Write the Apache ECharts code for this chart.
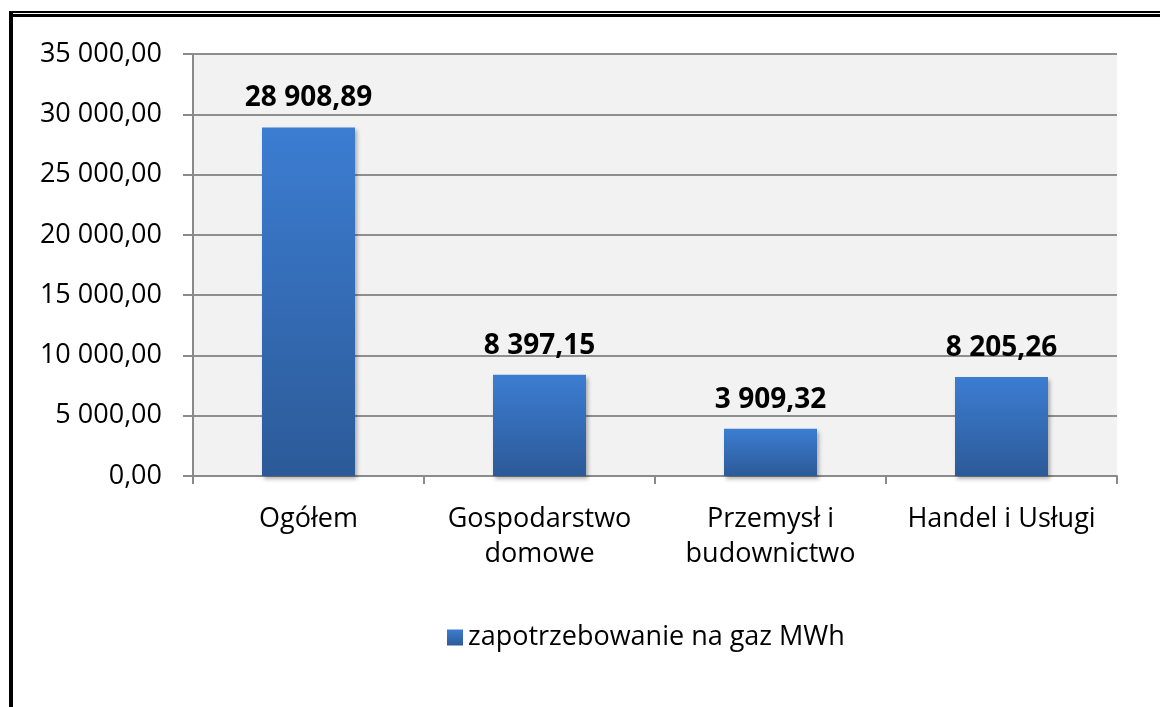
<!DOCTYPE html>
<html>
<head>
<meta charset="utf-8">
<script src="https://cdn.jsdelivr.net/npm/echarts@6/dist/echarts.min.js"></script>
<style>
  html, body { margin: 0; padding: 0; background: #fff; overflow: hidden; }
  #wrap { position: relative; width: 1160px; height: 707px; }
  #chart { width: 1160px; height: 707px; }
  /* frame of the original picture: double line on top, thick line on the left */
  .frame-top1 { position: absolute; left: 9px; top: 11px; width: 1151px; height: 2px; background: #000; }
  .frame-top2 { position: absolute; left: 9px; top: 14px; width: 1151px; height: 3px; background: #000; }
  .frame-left { position: absolute; left: 9px; top: 11px; width: 4px; height: 696px; background: #000; }
</style>
</head>
<body>
<div id="wrap">
  <div id="chart"></div>
  <div class="frame-top1"></div>
  <div class="frame-top2"></div>
  <div class="frame-left"></div>
</div>
<script>
var categories = ['Ogółem', 'Gospodarstwo\ndomowe', 'Przemysł i\nbudownictwo', 'Handel i Usługi'];
var gasDemand = [28908.89, 8397.15, 3909.32, 8205.26];
var seriesName = 'zapotrzebowanie na gaz MWh';
var yMin = 0;
var yMax = 35000;
var yStep = 5000;

// 28908.89 -> "28 908,89"
function fmtPl(v) {
    var parts = Number(v).toFixed(2).split('.');
    var intPart = parts[0].replace(/\B(?=(\d{3})+(?!\d))/g, ' ');
    return intPart + ',' + parts[1];
}

var FONT = '"Open Sans", sans-serif';

var echart = echarts.init(document.getElementById('chart'));
var option = {
    animation: false,
    textStyle: { fontFamily: FONT },
    grid: {
        left: 193,
        right: 43,
        top: 54,
        bottom: 231,
        show: true,
        backgroundColor: '#f2f2f2',
        borderWidth: 0
    },
    legend: {
        data: [seriesName],
        left: 442,
        top: 619,
        itemWidth: 16,
        itemHeight: 16,
        icon: 'rect',
        textStyle: { fontFamily: FONT, fontSize: 27, color: '#000' }
    },
    xAxis: {
        type: 'category',
        data: categories,
        axisLine: { lineStyle: { color: '#8a8a8a', width: 2 } },
        axisTick: { show: true, length: 8, lineStyle: { color: '#8a8a8a', width: 2 } },
        axisLabel: {
            interval: 0,
            margin: 26,
            fontSize: 27,
            lineHeight: 35,
            color: '#000',
            fontFamily: FONT
        }
    },
    yAxis: {
        type: 'value',
        min: yMin,
        max: yMax,
        interval: yStep,
        axisLine: { show: true, lineStyle: { color: '#8a8a8a', width: 2 } },
        axisTick: { show: true, length: 10, lineStyle: { color: '#8a8a8a', width: 2 } },
        splitLine: { lineStyle: { color: '#8e8e8e', width: 2 } },
        axisLabel: {
            margin: 31,
            fontSize: 27,
            color: '#000',
            fontFamily: FONT,
            formatter: fmtPl
        }
    },
    series: [
        {
            name: seriesName,
            type: 'bar',
            data: gasDemand,
            barWidth: 93,
            itemStyle: {
                color: new echarts.graphic.LinearGradient(0, 0, 0, 1, [
                    { offset: 0, color: '#3c7dd2' },
                    { offset: 1, color: '#2c5a98' }
                ]),
                shadowBlur: 4,
                shadowOffsetX: 2,
                shadowOffsetY: 3,
                shadowColor: 'rgba(0,0,0,0.3)'
            },
            label: {
                show: true,
                position: 'top',
                distance: 15,
                fontSize: 28,
                fontWeight: 'bold',
                color: '#000',
                fontFamily: FONT,
                formatter: function (p) { return fmtPl(p.value); }
            }
        }
    ]
};
echart.setOption(option);
</script>
</body>
</html>
